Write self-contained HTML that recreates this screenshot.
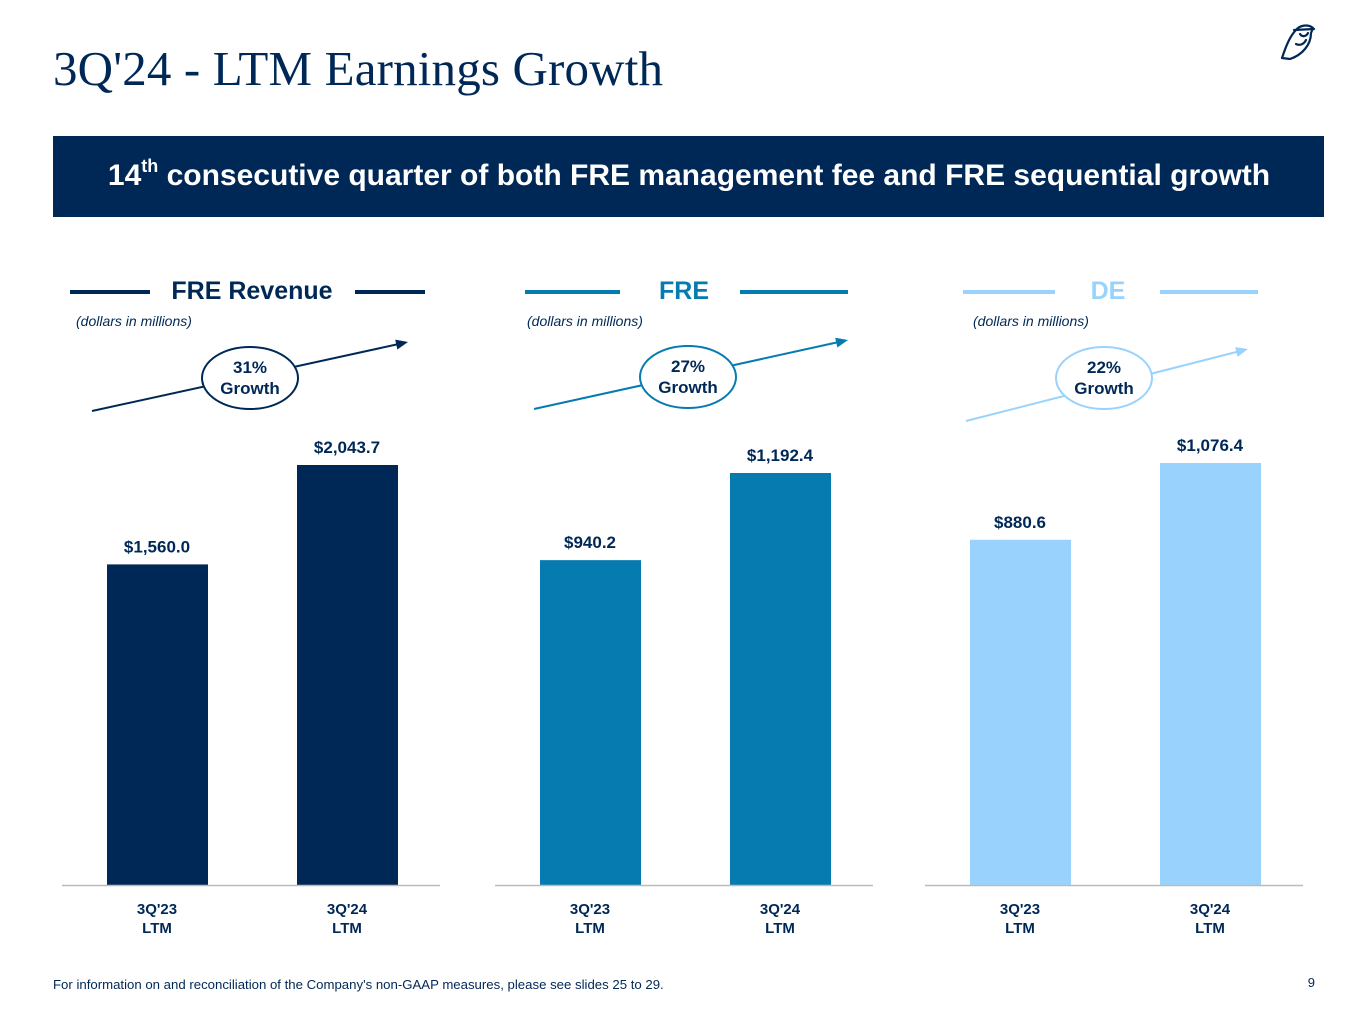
<!DOCTYPE html>
<html><head><meta charset="utf-8"><style>
body{margin:0;width:1365px;height:1024px;background:#fff;overflow:hidden;font-family:"Liberation Sans",sans-serif;}
svg{display:block}
</style></head><body>
<svg id="s" width="1365" height="1024" xmlns="http://www.w3.org/2000/svg">
<text x="53" y="85" font-family="Liberation Serif,serif" font-size="49" fill="#002856" textLength="610">3Q'24 - LTM Earnings Growth</text>
<g fill="none" stroke="#002856" stroke-width="2.2" stroke-linecap="round" stroke-linejoin="round">
<path d="M1282 58 C1286 46 1290 36 1296 30 C1300 25 1308 24 1313 28 L1311 33 C1311 45 1302 55 1290 59 Z"/>
<path d="M1294 30 L1314 29"/><path d="M1300 34 C1302 37 1306 37 1308 33"/><path d="M1296 44 C1300 46 1304 44 1306 40"/>
</g>
<rect x="53" y="136" width="1271" height="81" fill="#002856"/>
<text x="689" y="185" text-anchor="middle" fill="#fff" font-size="30" font-weight="bold">14<tspan font-size="18" dy="-13">th</tspan><tspan dy="13"> consecutive quarter of both FRE management fee and FRE sequential growth</tspan></text>
<text x="53" y="989" font-size="13.2" fill="#002856">For information on and reconciliation of the Company's non-GAAP measures, please see slides 25 to 29.</text>
<text x="1315" y="987" font-size="13" fill="#002856" text-anchor="end">9</text>
<g id="charts"></g>
</svg>
<script>
const titles=["FRE Revenue","FRE","DE"];
const categories=["3Q'23","3Q'24"];
const valuesFreRevenue=[1560.0,2043.7];
const valuesFre=[940.2,1192.4];
const valuesDe=[880.6,1076.4];
const growthLabels=["31%","27%","22%"];
const series=[valuesFreRevenue,valuesFre,valuesDe];
const colors=["#002856","#057bb0","#99d3fd"];
const lefts=[62,495,925];
const topPx=[420,412,422];
const titleX=[252,684,1108];
const rules=[[70,150,355,425],[525,620,740,848],[963,1055,1160,1258]];
const unitX=[76,527,973];
const arrows=[[92,411,408,342,250,378],[534,409,848,340,688,377],[966,421,1248,349,1104,378]];
const NS="http://www.w3.org/2000/svg";
const g=document.getElementById('charts');
function mk(t,a,p){const e=document.createElementNS(NS,t);for(const k in a)e.setAttribute(k,a[k]);(p||g).appendChild(e);return e;}
const base=885;
series.forEach((vals,i)=>{
  const L=lefts[i],c=colors[i];
  const max=Math.max(...vals);
  const y=v=>base-v/max*topPx[i];
  const x=j=>L+45+j*190;
  const grp=mk('g',{});
  
  
  const tt=mk('text',{x:titleX[i],y:299,'text-anchor':'middle','font-size':25,'font-weight':'bold',fill:c},grp);tt.textContent=titles[i];
  
  
  const r=rules[i];
  const l1=mk('line',{x1:r[0],x2:r[1],y1:292,y2:292,stroke:c,'stroke-width':4},grp);
  
  
  const l2=mk('line',{x1:r[2],x2:r[3],y1:292,y2:292,stroke:c,'stroke-width':4},grp);
  
  
  const u=mk('text',{x:unitX[i],y:326,'font-size':14,'font-style':'italic',fill:'#002856'},grp);u.textContent='(dollars in millions)';
  
  
  const a=arrows[i];
  const ang=Math.atan2(a[3]-a[1],a[2]-a[0]);
  const ar=mk('line',{x1:a[0],y1:a[1],x2:a[2]-10*Math.cos(ang),y2:a[3]-10*Math.sin(ang),stroke:c,'stroke-width':2},grp);
  
  
  const hx=a[2],hy=a[3],s=12;
  mk('polygon',{points:`${hx},${hy} ${hx-s*Math.cos(ang)+5*Math.sin(ang)},${hy-s*Math.sin(ang)-5*Math.cos(ang)} ${hx-s*Math.cos(ang)-5*Math.sin(ang)},${hy-s*Math.sin(ang)+5*Math.cos(ang)}`,fill:c},grp);
  const el=mk('ellipse',{cx:a[4],cy:a[5],rx:48,ry:31,fill:'#fff',stroke:c,'stroke-width':2},grp);
  
  
  const g1=mk('text',{x:a[4],y:a[5]-5,'text-anchor':'middle','font-size':17,'font-weight':'bold',fill:'#002856'},grp);g1.textContent=growthLabels[i];
  const g2=mk('text',{x:a[4],y:a[5]+16,'text-anchor':'middle','font-size':17,'font-weight':'bold',fill:'#002856'},grp);g2.textContent='Growth';
  vals.forEach((v,j)=>{
    const b=mk('rect',{x:x(j),y:y(v),width:101,height:base-y(v),fill:c},grp);
    
    
    const t=mk('text',{x:x(j)+50,y:y(v)-12,'text-anchor':'middle','font-size':17,'font-weight':'bold',fill:'#002856'},grp);
    t.textContent='$'+v.toLocaleString('en-US',{minimumFractionDigits:1,maximumFractionDigits:1});
    
    
    const c1=mk('text',{x:x(j)+50,y:914,'text-anchor':'middle','font-size':15,'font-weight':'bold',fill:'#002856'},grp);c1.textContent=categories[j];
    
    
    const c2=mk('text',{x:x(j)+50,y:933,'text-anchor':'middle','font-size':15,'font-weight':'bold',fill:'#002856'},grp);c2.textContent='LTM';
  });
  const ax=mk('line',{x1:L,x2:L+378,y1:base+0.5,y2:base+0.5,stroke:'#bbb','stroke-width':1.5},grp);
  
  
});
</script>
</body></html>
